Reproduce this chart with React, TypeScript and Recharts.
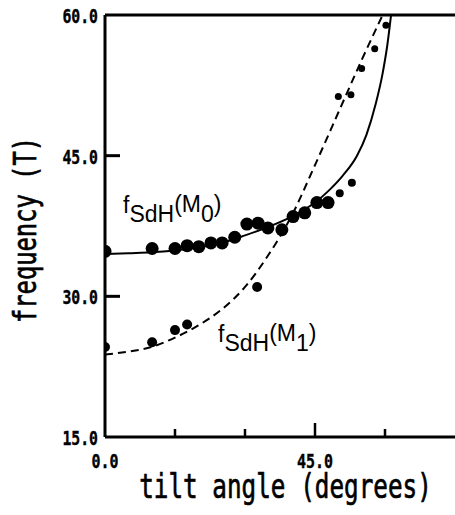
import React from 'react';
import { ComposedChart, XAxis, YAxis, Line, Scatter, ReferenceLine } from 'recharts';

// ---- axes ----
const xTicks = [0, 15, 30, 45, 60, 75];
const xLabeled = [0, 45];
const yTicks = [15, 30, 45, 60];

// ---- M0 branch (large dots) ----
const m0Angles = [0, 10.1, 15.0, 17.6, 20.1, 22.7, 25.1, 27.8, 30.4, 32.8, 34.9, 37.9, 40.3, 42.8, 45.4, 47.8];
const m0Freqs = [34.8, 35.1, 35.1, 35.4, 35.3, 35.7, 35.7, 36.3, 37.7, 37.8, 37.3, 37.1, 38.5, 38.9, 40.0, 40.0];
const m0TailAngles = [50.3, 52.9];
const m0TailFreqs = [41.0, 42.1];

// ---- M1 branch (smaller dots) ----
const m1Angles = [0, 10.1, 15.0, 17.6, 32.6];
const m1Freqs = [24.6, 25.1, 26.4, 27.0, 31.0];
const m1HighAngles = [50.0, 52.7, 55.0, 57.8, 60.2];
const m1HighFreqs = [51.3, 51.5, 54.3, 56.4, 58.9];

// ---- fitted curves ----
const m0CurveAngles = [0, 5, 10, 15, 20, 25, 30, 35, 40, 45, 48, 51, 54, 56, 58, 59.5, 60.5, 61.3];
const m0CurveFreqs = [34.5, 34.6, 34.7, 34.9, 35.2, 35.7, 36.5, 37.4, 38.5, 40.0, 41.3, 42.9, 45.0, 47.2, 50.5, 53.8, 56.8, 60.0];
const m1CurveAngles = [0, 5, 10, 15, 20, 25, 30, 35, 40, 45, 50, 55, 59.5];
const m1CurveFreqs = [23.8, 24.1, 24.6, 25.6, 26.9, 28.6, 31.0, 34.4, 38.6, 44.0, 49.6, 55.2, 60.0];

const zip = (xs: number[], ys: number[]) => xs.map((x, i) => ({ x, y: ys[i] }));
const m0Points = zip(m0Angles, m0Freqs);
const m0Tail = zip(m0TailAngles, m0TailFreqs);
const m1Points = zip(m1Angles, m1Freqs);
const m1High = zip(m1HighAngles, m1HighFreqs);
const m0Curve = zip(m0CurveAngles, m0CurveFreqs);
const m1Curve = zip(m1CurveAngles, m1CurveFreqs);

const TICK_FONT = '"DejaVu Sans Mono", monospace';
const TITLE_FONT = '"DejaVu Sans Mono", monospace';
const LABEL_FONT = '"Liberation Sans", Arial, sans-serif';

const XTick = (props: any) => {
  const { x, y, payload } = props;
  const v = payload.value as number;
  const len = v === 45 ? 14 : v === 0 || v === 75 ? 0 : 8;
  const label = xLabeled.includes(v) ? v.toFixed(1) : null;
  return (
    <g>
      {len > 0 && <line x1={x} x2={x} y1={y} y2={y - len} stroke="#000" strokeWidth={2.5} />}
      {label && (
        <text
          x={x}
          y={y + 31}
          textAnchor="middle"
          fontFamily={TICK_FONT}
          fontWeight="bold"
          fontSize={20}
          textLength={label.length * 9}
          lengthAdjust="spacingAndGlyphs"
          fill="#000"
          stroke="#000"
          strokeWidth={0.4}
        >
          {label}
        </text>
      )}
    </g>
  );
};

const YTick = (props: any) => {
  const { x, y, payload } = props;
  const v = payload.value as number;
  const label = v.toFixed(1);
  const showLine = v === 30 || v === 45;
  return (
    <g>
      {showLine && <line x1={x} x2={x + 15} y1={y} y2={y} stroke="#000" strokeWidth={3} />}
      <text
        x={x - 7}
        y={y + 8}
        textAnchor="end"
        fontFamily={TICK_FONT}
        fontWeight="bold"
        fontSize={20}
        textLength={label.length * 8.9}
        lengthAdjust="spacingAndGlyphs"
        fill="#000"
        stroke="#000"
        strokeWidth={0.4}
      >
        {label}
      </text>
    </g>
  );
};

const dot = (r: number) => (p: any) => <circle cx={p.cx} cy={p.cy} r={r} fill="#000" />;

export default function App() {
  return (
    <div style={{ position: 'absolute', left: 0, top: 0, width: 455, height: 515, background: '#fff' }}>
      <ComposedChart width={455} height={515} margin={{ top: 15, right: 0, bottom: 0, left: 0 }}>
        <XAxis
          type="number"
          dataKey="x"
          domain={[0, 75]}
          ticks={xTicks}
          interval={0}
          height={78}
          tickSize={0}
          tickMargin={0}
          tickLine={false}
          axisLine={{ stroke: '#000', strokeWidth: 3 }}
          tick={<XTick />}
          allowDataOverflow
        />
        <YAxis
          type="number"
          dataKey="y"
          domain={[15, 60]}
          ticks={yTicks}
          interval={0}
          width={105}
          tickSize={0}
          tickMargin={0}
          tickLine={false}
          axisLine={{ stroke: '#000', strokeWidth: 3 }}
          tick={<YTick />}
          allowDataOverflow
        />
        <ReferenceLine y={60} stroke="#000" strokeWidth={3} />
        <Line data={m0Curve} dataKey="y" type="monotone" stroke="#000" strokeWidth={2} dot={false} isAnimationActive={false} />
        <Line data={m1Curve} dataKey="y" type="monotone" stroke="#000" strokeWidth={2} strokeDasharray="8 5" dot={false} isAnimationActive={false} />
        <Scatter data={m0Points} dataKey="y" fill="#000" shape={dot(6.5)} isAnimationActive={false} />
        <Scatter data={m0Tail} dataKey="y" fill="#000" shape={dot(4)} isAnimationActive={false} />
        <Scatter data={m1Points} dataKey="y" fill="#000" shape={dot(5)} isAnimationActive={false} />
        <Scatter data={m1High} dataKey="y" fill="#000" shape={dot(3.5)} isAnimationActive={false} />
      </ComposedChart>
      <svg width={455} height={515} style={{ position: 'absolute', left: 0, top: 0, pointerEvents: 'none' }}>
        <g transform="translate(285.5, 498) scale(1, 1.36)">
          <text x={0} y={0} textAnchor="middle" fontFamily={TITLE_FONT} fontSize={24.3} fill="#000" stroke="#000" strokeWidth={0.5}>
            tilt angle (degrees)
          </text>
        </g>
        <g transform="translate(36, 230) rotate(-90) scale(1, 1.36)">
          <text x={0} y={0} textAnchor="middle" fontFamily={TITLE_FONT} fontSize={23.8} fill="#000" stroke="#000" strokeWidth={0.5}>
            frequency (T)
          </text>
        </g>
        <text x={123} y={213} fontFamily={LABEL_FONT} fontSize={23} fill="#000">
          f<tspan dy={9}>SdH</tspan><tspan dy={-10}>(M</tspan><tspan dy={10}>0</tspan><tspan dy={-10}>)</tspan>
        </text>
        <text x={218} y={342} fontFamily={LABEL_FONT} fontSize={23} fill="#000">
          f<tspan dy={9}>SdH</tspan><tspan dy={-10}>(M</tspan><tspan dy={10}>1</tspan><tspan dy={-10}>)</tspan>
        </text>
      </svg>
    </div>
  );
}
